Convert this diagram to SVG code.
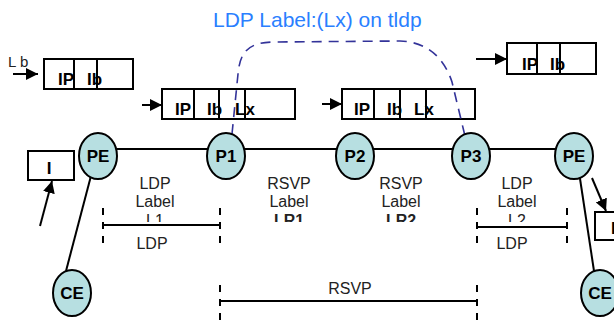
<svg xmlns="http://www.w3.org/2000/svg" width="614" height="320" viewBox="0 0 614 320">
<style>
.box{fill:#fff;stroke:#000;stroke-width:2}
.div{stroke:#000;stroke-width:2}
.bt{font-family:"Liberation Sans",Arial,sans-serif;font-size:17px;font-weight:bold;fill:#000}
.node{fill:#b7dfe1;stroke:#000;stroke-width:2}
.nt{font-family:"Liberation Sans",Arial,sans-serif;font-size:17px;font-weight:bold;fill:#000;text-anchor:middle}
.lt{font-family:"Liberation Sans",Arial,sans-serif;font-size:16px;fill:#222;text-anchor:middle}
.lb{font-family:"Liberation Sans",Arial,sans-serif;font-size:16px;font-weight:bold;fill:#222;text-anchor:middle}
.ln{stroke:#000;stroke-width:2;fill:none}
.tick{stroke:#000;stroke-width:2;stroke-dasharray:7 7;fill:none}
.arr{stroke:#000;stroke-width:2;fill:none;marker-end:url(#ah)}
.tldp{stroke:#333399;stroke-width:1.6;stroke-dasharray:10 7;fill:none}
</style>
<defs>
<marker id="ah" markerUnits="userSpaceOnUse" markerWidth="13" markerHeight="12" refX="12" refY="6" orient="auto">
<path d="M0,0 L12,6 L0,12 z" fill="#000"/>
</marker>
<clipPath id="cut"><rect x="0" y="0" width="614" height="222"/></clipPath>
</defs>
<rect width="614" height="320" fill="#fff"/>

<text x="213" y="27" font-family="'Liberation Sans',Arial,sans-serif" font-size="21" fill="#2a7fff">LDP Label:(Lx) on tldp</text>

<g id="label-lb"><text x="8" y="67" font-family="'Liberation Sans',Arial,sans-serif" font-size="15" fill="#222">L b</text></g>

<g id="box1">
<rect class="box" x="44" y="59" width="89" height="30"/>
<line class="div" x1="74" y1="59" x2="74" y2="89"/><line class="div" x1="97" y1="59" x2="97" y2="89"/>
<text class="bt" x="58" y="85">IP</text><text class="bt" x="87" y="85">Ib</text>
</g>
<g id="box2">
<rect class="box" x="162" y="89" width="133" height="30"/>
<line class="div" x1="194" y1="89" x2="194" y2="119"/><line class="div" x1="219" y1="89" x2="219" y2="119"/><line class="div" x1="245" y1="89" x2="245" y2="119"/>
<text class="bt" x="175" y="115">IP</text><text class="bt" x="207" y="115">Ib</text><text class="bt" x="235" y="115">Lx</text>
</g>
<g id="box3">
<rect class="box" x="342" y="89" width="133" height="30"/>
<line class="div" x1="374" y1="89" x2="374" y2="119"/><line class="div" x1="400" y1="89" x2="400" y2="119"/><line class="div" x1="426" y1="89" x2="426" y2="119"/>
<text class="bt" x="354" y="115">IP</text><text class="bt" x="387" y="115">Ib</text><text class="bt" x="414" y="115">Lx</text>
</g>
<g id="box4">
<rect class="box" x="507" y="43" width="89" height="31"/>
<line class="div" x1="537" y1="43" x2="537" y2="74"/><line class="div" x1="560" y1="43" x2="560" y2="74"/>
<text class="bt" x="522" y="70">IP</text><text class="bt" x="550" y="70">Ib</text>
</g>
<g id="box-i-left">
<rect class="box" x="28" y="151" width="46" height="29"/>
<text class="nt" x="49" y="174">I</text>
</g>
<g id="box-i-right">
<rect class="box" x="595" y="212" width="40" height="28"/>
<text class="bt" x="611" y="234">I</text>
</g>

<g id="connectors">
<line class="ln" x1="117" y1="149" x2="555" y2="149" stroke-width="1.6"/>
<line class="ln" x1="92" y1="172" x2="66" y2="271"/>
<line class="ln" x1="579" y1="172" x2="594" y2="271"/>
<path class="tldp" d="M232,134 L238,74 C240,52 248,42 275,42 L400,41 C428,42 444,58 452,82 L465,136"/>
<line class="arr" x1="13" y1="74" x2="38" y2="74"/>
<line class="arr" x1="142" y1="105" x2="162" y2="105"/>
<line class="arr" x1="322" y1="104" x2="342" y2="104"/>
<line class="arr" x1="476" y1="59" x2="507" y2="59"/>
<line class="arr" x1="40" y1="226" x2="52" y2="181"/>
<line class="arr" x1="592" y1="178" x2="606" y2="211"/>
</g>

<g id="node-pe-left"><ellipse class="node" cx="98" cy="156" rx="19" ry="23"/><text class="nt" x="98" y="162">PE</text></g>
<g id="node-p1"><ellipse class="node" cx="226" cy="156" rx="19" ry="23"/><text class="nt" x="226" y="162">P1</text></g>
<g id="node-p2"><ellipse class="node" cx="355" cy="156" rx="19" ry="23"/><text class="nt" x="355" y="162">P2</text></g>
<g id="node-p3"><ellipse class="node" cx="471" cy="156" rx="19" ry="23"/><text class="nt" x="471" y="162">P3</text></g>
<g id="node-pe-right"><ellipse class="node" cx="574" cy="156" rx="19" ry="23"/><text class="nt" x="574" y="162">PE</text></g>
<g id="node-ce-left"><ellipse class="node" cx="72" cy="293" rx="19" ry="23"/><text class="nt" x="72" y="299">CE</text></g>
<g id="node-ce-right"><ellipse class="node" cx="600" cy="293" rx="19" ry="23"/><text class="nt" x="600" y="299">CE</text></g>

<g id="seg-labels">
<text class="lt" x="155" y="189">LDP</text><text class="lt" x="155" y="207">Label</text>
<text class="lt" x="155" y="226" clip-path="url(#cut)">L1</text>
<text class="lt" x="289" y="189">RSVP</text><text class="lt" x="289" y="207">Label</text>
<text class="lb" x="289" y="226" clip-path="url(#cut)">LR1</text>
<text class="lt" x="401" y="189">RSVP</text><text class="lt" x="401" y="207">Label</text>
<text class="lb" x="401" y="226" clip-path="url(#cut)">LR2</text>
<text class="lt" x="517" y="189">LDP</text><text class="lt" x="517" y="207">Label</text>
<text class="lt" x="517" y="226" clip-path="url(#cut)">L2</text>
</g>

<g id="span-ldp-left">
<line class="ln" x1="103" y1="225" x2="220" y2="225"/>
<line class="tick" x1="103" y1="208" x2="103" y2="245"/>
<line class="tick" x1="220" y1="208" x2="220" y2="245"/>
<text class="lt" x="152" y="249">LDP</text>
</g>
<g id="span-ldp-right">
<line class="ln" x1="477" y1="227" x2="567" y2="227"/>
<line class="tick" x1="477" y1="208" x2="477" y2="245"/>
<line class="tick" x1="567" y1="208" x2="567" y2="245"/>
<text class="lt" x="512" y="249">LDP</text>
</g>
<g id="span-rsvp">
<line class="ln" x1="220" y1="301" x2="477" y2="301"/>
<line class="tick" x1="220" y1="285" x2="220" y2="320" stroke-dasharray="7 5"/>
<line class="tick" x1="477" y1="285" x2="477" y2="320" stroke-dasharray="7 5"/>
<text class="lt" x="350" y="294">RSVP</text>
</g>
</svg>
